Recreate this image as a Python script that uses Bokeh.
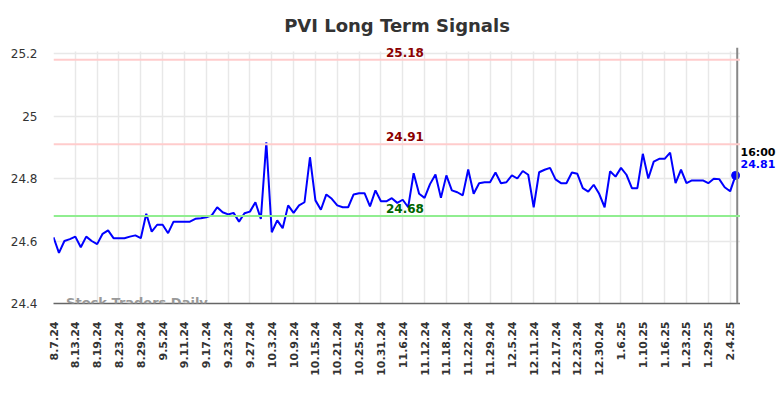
from bokeh.plotting import figure
from bokeh.layouts import row
from bokeh.models import Range1d, FixedTicker, Label, Span, ColumnDataSource, Title
from bokeh.core.properties import value
from bokeh.embed import file_html
from bokeh.resources import INLINE
from math import pi

# ---- data ----
values = [
    24.612, 24.562, 24.600, 24.606, 24.614, 24.580, 24.614, 24.600, 24.590, 24.623,
    24.634, 24.609, 24.609, 24.609, 24.614, 24.618, 24.609, 24.687, 24.630, 24.652,
    24.652, 24.625, 24.662, 24.662, 24.662, 24.662, 24.671, 24.673, 24.676, 24.682,
    24.708, 24.692, 24.685, 24.690, 24.662, 24.689, 24.694, 24.724, 24.671, 24.916,
    24.628, 24.666, 24.641, 24.714, 24.690, 24.714, 24.724, 24.868, 24.730, 24.700,
    24.749, 24.735, 24.714, 24.708, 24.708, 24.749, 24.753, 24.753, 24.711, 24.762,
    24.727, 24.727, 24.737, 24.722, 24.732, 24.708, 24.817, 24.751, 24.738, 24.782,
    24.813, 24.738, 24.810, 24.762, 24.756, 24.746, 24.829, 24.751, 24.785, 24.788,
    24.788, 24.819, 24.785, 24.788, 24.810, 24.800, 24.824, 24.812, 24.708, 24.820,
    24.828, 24.834, 24.797, 24.785, 24.785, 24.819, 24.815, 24.769, 24.758, 24.780,
    24.751, 24.708, 24.823, 24.806, 24.834, 24.812, 24.769, 24.769, 24.879, 24.800,
    24.854, 24.863, 24.863, 24.883, 24.785, 24.828, 24.785, 24.794, 24.794, 24.794,
    24.785, 24.799, 24.798, 24.772, 24.759, 24.810,
]
tick_labels = [
    "8.7.24", "8.13.24", "8.19.24", "8.23.24", "8.29.24", "9.5.24", "9.11.24",
    "9.17.24", "9.23.24", "9.27.24", "10.3.24", "10.9.24", "10.15.24", "10.21.24",
    "10.25.24", "10.31.24", "11.6.24", "11.12.24", "11.18.24", "11.22.24",
    "11.29.24", "12.5.24", "12.11.24", "12.17.24", "12.23.24", "12.30.24",
    "1.6.25", "1.10.25", "1.16.25", "1.23.25", "1.29.25", "2.4.25",
]
tick_step = 4
y_ticks = [24.4, 24.6, 24.8, 25.0, 25.2]
y_tick_labels = ["24.4", "24.6", "24.8", "25", "25.2"]
upper_signal = 25.18
mid_signal = 24.91
lower_signal = 24.68
last_time = "16:00"
title_text = "PVI Long Term Signals"
watermark = "Stock Traders Daily"

FONT = "DejaVu Sans"
idx = list(range(len(values)))
tick_pos = [i * tick_step for i in range(len(tick_labels))]
last_i = idx[-1]
last_v = values[-1]

Y0, Y1 = 24.4, 25.2
TOP_PAD = 0.0192          # a little room above the top gridline for the 25.18 label
yr = Range1d(Y0, Y1 + TOP_PAD)

p = figure(width=740, height=390, output_backend="svg", toolbar_location=None,
           x_range=Range1d(0, last_i + 0.9), y_range=yr,
           min_border_left=53, min_border_top=47, min_border_right=0,
           min_border_bottom=87)
p.outline_line_color = None
p.background_fill_color = "white"
p.border_fill_color = "white"

p.title = Title(text=title_text, align="center", text_font=FONT, text_font_style="bold",
                text_font_size="18px", text_color="#333333", standoff=24)

# grids
p.xgrid.ticker = FixedTicker(ticks=tick_pos)
p.ygrid.ticker = FixedTicker(ticks=y_ticks)
p.xgrid.grid_line_color = "#e8e8e8"
p.ygrid.grid_line_color = "#e8e8e8"
p.xgrid.grid_line_width = 1.5
p.ygrid.grid_line_width = 1.5
xg = p.xgrid[0]
if "cross_bounds" in xg.properties():
    xg.cross_bounds = (Y0, Y1 + 0.006)

# x axis
xa = p.xaxis[0]
xa.ticker = FixedTicker(ticks=tick_pos)
xa.major_label_overrides = {pos: lab for pos, lab in zip(tick_pos, tick_labels)}
xa.major_label_orientation = pi / 2
xa.major_label_text_font = FONT
xa.major_label_text_font_style = "bold"
xa.major_label_text_font_size = "11px"
xa.major_label_text_color = "#333333"
xa.major_tick_line_color = None
xa.minor_tick_line_color = None
xa.major_tick_out = 0
xa.major_label_standoff = 18
xa.axis_line_color = "#666666"
xa.axis_line_width = 1.5

# y axis
ya = p.yaxis[0]
ya.ticker = FixedTicker(ticks=y_ticks)
ya.major_label_overrides = {t: lab for t, lab in zip(y_ticks, y_tick_labels)}
ya.major_label_text_font = FONT
ya.major_label_text_font_size = "12px"
ya.major_label_text_color = "#333333"
ya.major_tick_line_color = None
ya.minor_tick_line_color = None
ya.major_tick_out = 0
ya.major_label_standoff = 16
ya.axis_line_color = None

# right border line
p.add_layout(Span(location=last_i + 0.3, dimension="height", line_color="#888888", line_width=2))

# signal lines
p.add_layout(Span(location=upper_signal, dimension="width", line_color="#ffcccc", line_width=2))
p.add_layout(Span(location=mid_signal, dimension="width", line_color="#ffcccc", line_width=2))
p.add_layout(Span(location=lower_signal, dimension="width", line_color="#90ee90", line_width=2))

src = ColumnDataSource(dict(x=idx, y=values))
p.line("x", "y", source=src, line_color="#0000ff", line_width=2)
p.scatter([last_i], [last_v], size=8, color="#0000ff")

lab_x = 64.4
for val, col in [(upper_signal, "#8b0000"), (mid_signal, "#8b0000"), (lower_signal, "#006400")]:
    p.add_layout(Label(x=lab_x, y=val + 0.023, text=f"{val:.2f}", text_align="center",
                       text_baseline="middle", text_font=FONT, text_font_style="bold",
                       text_font_size="12px", text_color=col))

p.add_layout(Label(x=2.3, y=Y0 + 0.0026, text=watermark, text_align="left",
                   text_baseline="alphabetic", text_font=FONT, text_font_style="bold",
                   text_font_size="13px", text_color="#999999"))

# side panel with the last-price annotation
p2 = figure(width=36, height=390, output_backend="svg", toolbar_location=None,
            x_range=Range1d(0, 36), y_range=yr, x_axis_type=None, y_axis_type=None,
            min_border_left=0, min_border_right=0, min_border_top=47,
            min_border_bottom=87)
p2.outline_line_color = None
p2.grid.visible = False
p2.text(x=[0, 0], y=[last_v + 0.074, last_v + 0.036], text=[last_time, f"{last_v:.2f}"],
        text_color=["#000000", "#0000ff"], text_font=value(FONT), text_font_style="bold",
        text_font_size="11px", text_baseline="middle", text_align="left")

layout = row(p, p2)
open("out.html", "w").write(file_html(layout, INLINE))
